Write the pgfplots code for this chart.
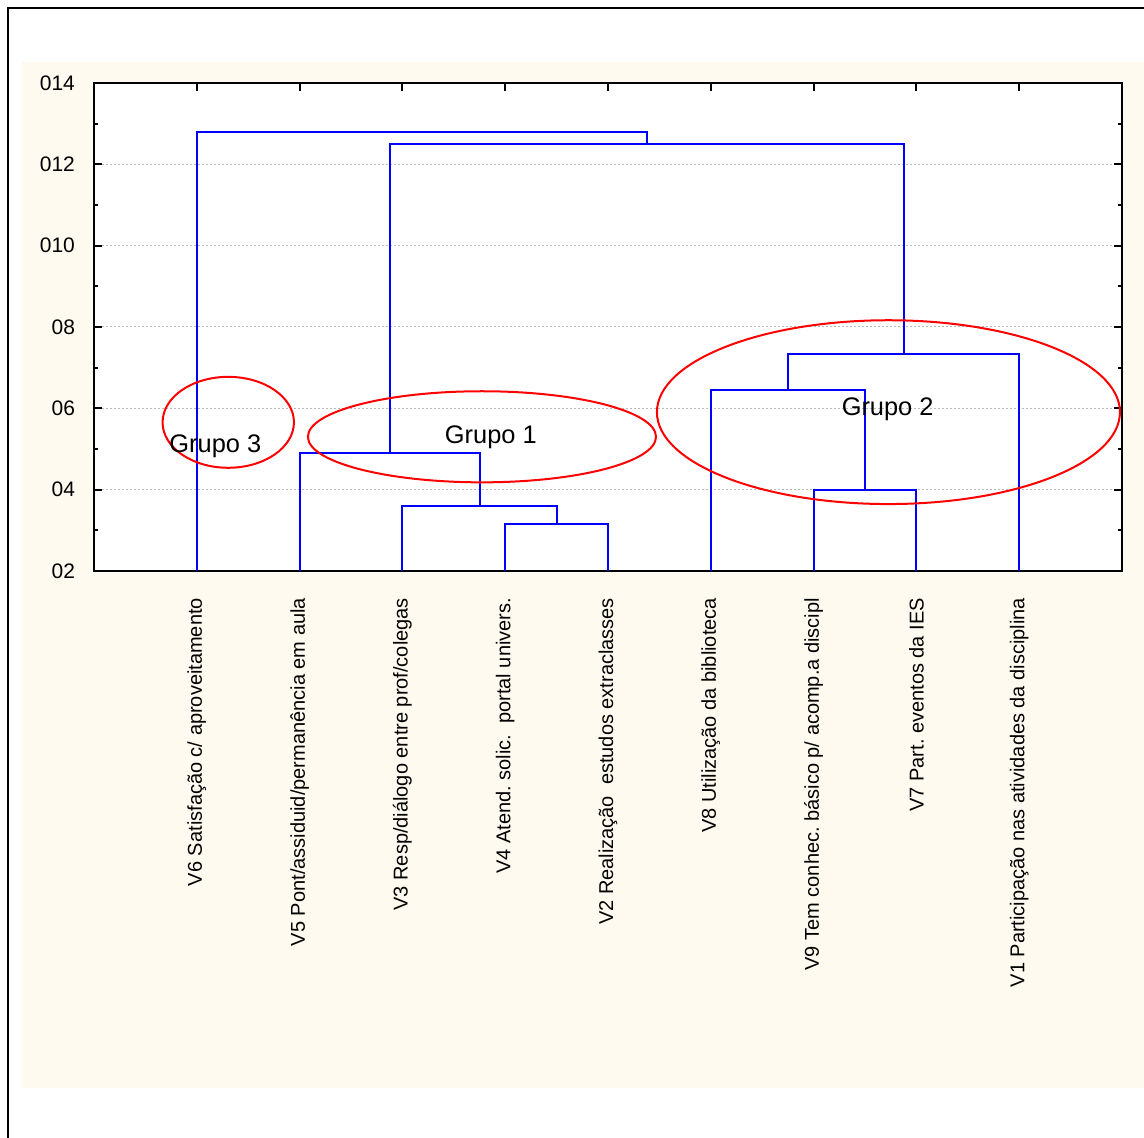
\documentclass[border=0pt]{standalone}
\usepackage{fontspec}
\setmainfont{Liberation Sans}
\usepackage{pgfplots}
\pgfplotsset{compat=1.18}
\definecolor{cream}{RGB}{255,250,240}
\frenchspacing
\begin{document}
\begin{tikzpicture}
\useasboundingbox (0pt,0pt) rectangle (572pt,569pt);
\fill[cream] (11pt,25pt) rectangle (572pt,538pt);
\draw[line width=1.3pt] (4pt,0pt) -- (4pt,565pt) -- (572pt,565pt);
\begin{axis}[
  at={(47pt,283.5pt)}, anchor=south west,
  scale only axis, width=514pt, height=244pt,
  xmin=0, xmax=10, ymin=2, ymax=14,
  axis background/.style={fill=white},
  axis line style={line width=1.2pt},
  xtick={1,...,9},
  xticklabels={V6 Satisfação c/ aproveitamento,
    V5 Pont/assiduid/permanência em aula,
    V3 Resp/diálogo entre prof/colegas,
    V4 Atend. solic.\ \ portal univers.,
    V2 Realização\ \ estudos extraclasses,
    V8 Utilização da biblioteca,
    V9 Tem conhec. básico p/ acomp.a discipl,
    V7 Part. eventos da IES,
    V1 Participação nas atividades da disciplina},
  ytick={2,4,...,14},
  yticklabels={02,04,06,08,010,012,014},
  minor y tick num=1,
  tick align=inside,
  xtick pos=both, ytick pos=both,
  major tick length=4pt, minor tick length=2pt,
  every tick/.style={black, line width=1pt},
  /pgf/number format/assume math mode=true,
  xticklabel style={font=\fontsize{10}{12}\selectfont, yshift=-10pt, rotate=90, anchor=east},
  yticklabel style={font=\fontsize{10.5}{12}\selectfont, xshift=-6pt},
  ymajorgrids,
  grid style={gray!55, line width=0.5pt, dash pattern=on 1pt off 1pt},
]
\addplot[blue, line width=1pt] coordinates {(4,2) (4,3.155) (5,3.155) (5,2)};
\addplot[blue, line width=1pt] coordinates {(3,2) (3,3.60) (4.5,3.60) (4.5,3.155)};
\addplot[blue, line width=1pt] coordinates {(2,2) (2,4.91) (3.75,4.91) (3.75,3.60)};
\addplot[blue, line width=1pt] coordinates {(7,2) (7,3.99) (8,3.99) (8,2)};
\addplot[blue, line width=1pt] coordinates {(6,2) (6,6.46) (7.5,6.46) (7.5,3.99)};
\addplot[blue, line width=1pt] coordinates {(6.75,6.46) (6.75,7.33) (9,7.33) (9,2)};
\addplot[blue, line width=1pt] coordinates {(2.875,4.91) (2.875,12.51) (7.875,12.51) (7.875,7.33)};
\addplot[blue, line width=1pt] coordinates {(1,2) (1,12.79) (5.375,12.79) (5.375,12.51)};
\draw[red, line width=1pt] (axis cs:1.306,5.656) ellipse [x radius=0.639, y radius=1.118];
\draw[red, line width=1pt] (axis cs:3.774,5.30) ellipse [x radius=1.693, y radius=1.12];
\draw[red, line width=1pt] (axis cs:7.728,5.906) ellipse [x radius=2.252, y radius=2.26];
\node[anchor=base west, inner sep=0pt, font=\fontsize{12.7}{15}\selectfont] at (axis cs:0.73,4.92) {Grupo 3};
\node[anchor=base west, inner sep=0pt, font=\fontsize{12.7}{15}\selectfont] at (axis cs:3.41,5.145) {Grupo 1};
\node[anchor=base west, inner sep=0pt, font=\fontsize{12.7}{15}\selectfont] at (axis cs:7.27,5.83) {Grupo 2};
\end{axis}
\end{tikzpicture}
\end{document}
